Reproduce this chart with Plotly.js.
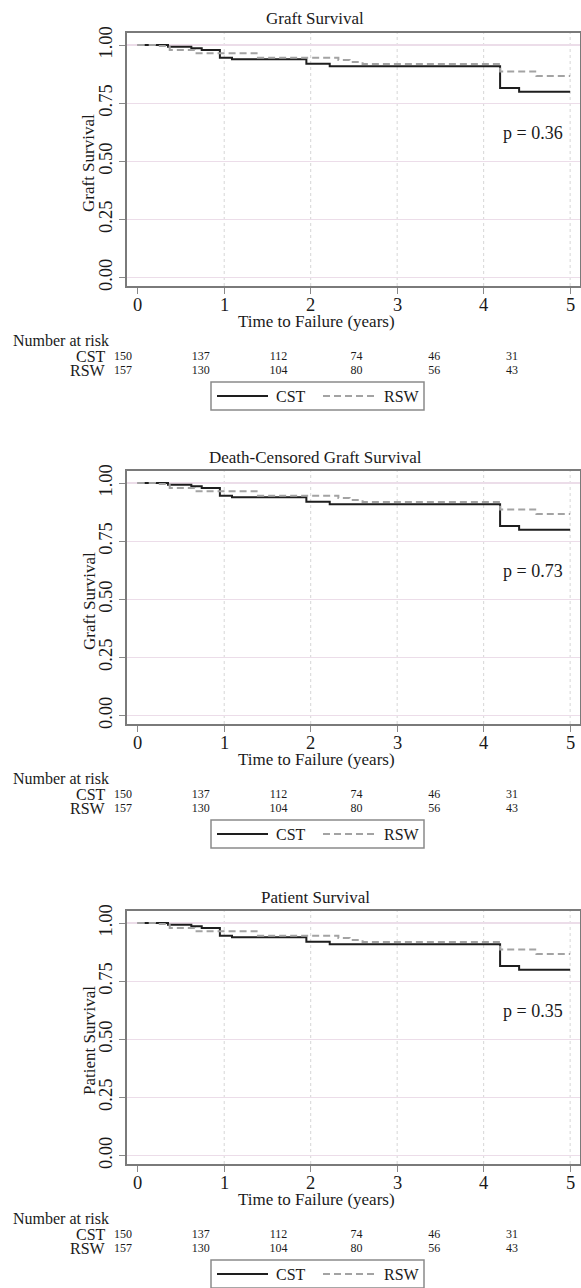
<!DOCTYPE html>
<html>
<head>
<meta charset="utf-8">
<script src="https://cdn.plot.ly/plotly-3.0.1.min.js"></script>
<style>
  html, body { margin: 0; padding: 0; background: #fff; }
  #chart { width: 581px; height: 1288px; }
</style>
</head>
<body>
<div id="chart"></div>
<script>
// ---------------- data ----------------
const panelTitles = ["Graft Survival", "Death-Censored Graft Survival", "Patient Survival"];
const yTitles = ["Graft Survival", "Graft Survival", "Patient Survival"];
const pValues = ["p = 0.36", "p = 0.73", "p = 0.35"];
const groups = ["CST", "RSW"];

const cstTime = [0, 0.35, 0.62, 0.74, 0.95, 1.09, 1.95, 2.22, 4.19, 4.41, 5.0];
const cstSurv = [1.000, 0.993, 0.986, 0.979, 0.946, 0.939, 0.920, 0.909, 0.815, 0.799, 0.799];
const rswTime = [0, 0.20, 0.37, 0.66, 1.39, 2.32, 2.45, 2.60, 4.19, 4.61, 5.0];
const rswSurv = [1.000, 0.996, 0.979, 0.965, 0.946, 0.936, 0.927, 0.919, 0.886, 0.867, 0.867];

const riskTimes = [0, 1, 2, 3, 4, 5];
const cstRisk = [150, 137, 112, 74, 46, 31];
const rswRisk = [157, 130, 104, 80, 56, 43];

const xTicks = [0, 1, 2, 3, 4, 5];
const yTicks = [0, 0.25, 0.5, 0.75, 1];
const yTickText = ["0.00", "0.25", "0.50", "0.75", "1.00"];

// ---------------- layout helpers ----------------
const W = 581, H = 1288;
const px = v => v / W;
const py = v => 1 - v / H;
const offsets = [0, 438, 878];
const FONT = "Liberation Serif, Times New Roman, serif";
const TXT = "#1a1a1a";

const data = [];
const layout = {
  width: W, height: H,
  margin: {l: 0, r: 0, t: 0, b: 0},
  paper_bgcolor: "#fff", plot_bgcolor: "rgba(0,0,0,0)",
  showlegend: false,
  font: {family: FONT, color: TXT},
  annotations: [], shapes: []
};

// hidden axis for the risk table columns
layout.xaxis4 = {domain: [0, 1], range: [-123 / 77.8, (W - 123) / 77.8], visible: false, fixedrange: true, anchor: "y4"};
layout.yaxis4 = {domain: [0, 1], range: [0, 1], visible: false, fixedrange: true, anchor: "x4"};

offsets.forEach((off, i) => {
  const k = i === 0 ? "" : String(i + 1);
  const xa = "x" + k, ya = "y" + k;

  data.push({
    x: cstTime, y: cstSurv, xaxis: xa, yaxis: ya, type: "scatter", mode: "lines",
    line: {shape: "hv", color: "#1e1e1e", width: 2}, name: groups[0], hoverinfo: "skip"
  });
  data.push({
    x: rswTime, y: rswSurv, xaxis: xa, yaxis: ya, type: "scatter", mode: "lines",
    line: {shape: "hv", color: "#a3a3a3", width: 2, dash: "7px,4px"}, name: groups[1], hoverinfo: "skip"
  });

  layout["xaxis" + k] = {
    domain: [px(127), px(580)], anchor: ya, range: [-0.124, 5.114],
    tickmode: "array", tickvals: xTicks, showticklabels: false,
    ticks: "outside", ticklen: 6, tickwidth: 1, tickcolor: "#888",
    showgrid: false, zeroline: false,
    showline: true, mirror: true, linecolor: "#7a7a7a", linewidth: 2,
    fixedrange: true
  };
  layout["yaxis" + k] = {
    domain: [py(286 + off), py(33 + off)], anchor: xa, range: [-0.036, 1.052],
    tickmode: "array", tickvals: yTicks, ticktext: yTickText, tickangle: -90,
    ticks: "outside", ticklen: 6, tickwidth: 1, tickcolor: "#888",
    showgrid: true, gridcolor: "#ecdde9", gridwidth: 1.2, zeroline: false,
    showline: true, mirror: true, linecolor: "#7a7a7a", linewidth: 2,
    tickfont: {family: FONT, size: 18.5, color: TXT}, fixedrange: true
  };

  // x tick labels, placed on the x axis scale
  xTicks.forEach(t => {
    layout.annotations.push({text: String(t), xref: xa, yref: "paper", x: t, y: py(305 + off),
      xanchor: "center", yanchor: "middle", showarrow: false, font: {family: FONT, size: 18.5, color: TXT}});
  });

  // vertical dotted grid
  [1, 2, 3, 4, 5].forEach(t => {
    layout.shapes.push({type: "line", xref: xa, yref: ya + " domain", x0: t, x1: t, y0: 0, y1: 1,
      line: {color: "#d6d6d6", width: 1, dash: "dot"}, layer: "below"});
  });

  // titles
  layout.annotations.push({text: panelTitles[i], xref: "paper", yref: "paper", x: px(315), y: py(19 + off),
    xanchor: "center", yanchor: "middle", showarrow: false, font: {family: FONT, size: 17, color: TXT}});
  layout.annotations.push({text: "Time to Failure (years)", xref: "paper", yref: "paper", x: px(316), y: py(321 + off),
    xanchor: "center", yanchor: "middle", showarrow: false, font: {family: FONT, size: 17, color: TXT}});
  layout.annotations.push({text: yTitles[i], xref: "paper", yref: "paper", x: px(89), y: py(163 + off),
    xanchor: "center", yanchor: "middle", textangle: -90, showarrow: false, font: {family: FONT, size: 17, color: TXT}});
  layout.annotations.push({text: pValues[i], xref: xa, yref: ya, x: 4.57, y: 0.62,
    xanchor: "center", yanchor: "middle", showarrow: false, font: {family: FONT, size: 18, color: TXT}});

  // number at risk
  layout.annotations.push({text: "Number at risk", xref: "paper", yref: "paper", x: px(11), y: py(340 + off),
    xanchor: "left", yanchor: "middle", showarrow: false, font: {family: FONT, size: 16, color: TXT}});
  layout.annotations.push({text: groups[0], xref: "paper", yref: "paper", x: px(108), y: py(356 + off),
    xanchor: "right", yanchor: "middle", showarrow: false, font: {family: FONT, size: 16, color: TXT}});
  layout.annotations.push({text: groups[1], xref: "paper", yref: "paper", x: px(108), y: py(370 + off),
    xanchor: "right", yanchor: "middle", showarrow: false, font: {family: FONT, size: 16, color: TXT}});

  data.push({x: riskTimes, y: riskTimes.map(() => py(357 + off)), xaxis: "x4", yaxis: "y4",
    type: "scatter", mode: "text", text: cstRisk.map(String), textposition: "middle center",
    textfont: {family: FONT, size: 12, color: TXT}, hoverinfo: "skip"});
  data.push({x: riskTimes, y: riskTimes.map(() => py(370.5 + off)), xaxis: "x4", yaxis: "y4",
    type: "scatter", mode: "text", text: rswRisk.map(String), textposition: "middle center",
    textfont: {family: FONT, size: 12, color: TXT}, hoverinfo: "skip"});

  // legend box
  layout.shapes.push({type: "rect", xref: "paper", yref: "paper", x0: px(211), x1: px(424),
    y0: py(410 + off), y1: py(382 + off), line: {color: "#8a8a8a", width: 1.5}, fillcolor: "rgba(0,0,0,0)"});
  layout.shapes.push({type: "line", xref: "paper", yref: "paper", x0: px(217), x1: px(268),
    y0: py(396 + off), y1: py(396 + off), line: {color: "#1e1e1e", width: 2}});
  layout.shapes.push({type: "line", xref: "paper", yref: "paper", x0: px(323), x1: px(375),
    y0: py(396 + off), y1: py(396 + off), line: {color: "#a3a3a3", width: 2, dash: "7px,4px"}});
  layout.annotations.push({text: groups[0], xref: "paper", yref: "paper", x: px(274), y: py(396.5 + off),
    xanchor: "left", yanchor: "middle", showarrow: false, font: {family: FONT, size: 16, color: TXT}});
  layout.annotations.push({text: groups[1], xref: "paper", yref: "paper", x: px(382), y: py(396.5 + off),
    xanchor: "left", yanchor: "middle", showarrow: false, font: {family: FONT, size: 16, color: TXT}});
});

Plotly.newPlot("chart", data, layout, {displayModeBar: false, staticPlot: true});
</script>
</body>
</html>
